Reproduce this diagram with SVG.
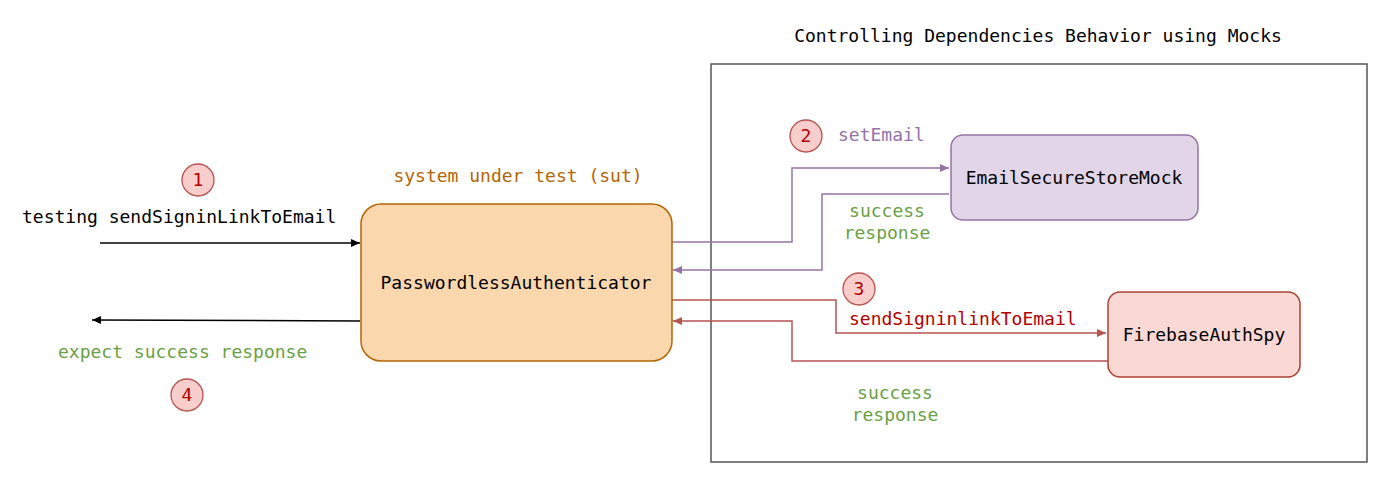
<svg xmlns="http://www.w3.org/2000/svg" width="1400" height="486" viewBox="0 0 1400 486">
<defs>
<style>
text{font-family:"DejaVu Sans Mono","Liberation Mono",monospace;font-size:18px}
.num{fill:#f8cecc;stroke:#b85450;stroke-width:1.3}
.nt{fill:#b20000;text-anchor:middle}
.g{fill:#6a9f45}
.ln{fill:none;stroke-width:1.5}
</style>
<marker id="ak" markerWidth="10" markerHeight="10" refX="9" refY="5" orient="auto" markerUnits="userSpaceOnUse"><path d="M0,1 L9,5 L0,9 Z" fill="#000"/></marker>
<marker id="ap" markerWidth="10" markerHeight="10" refX="9" refY="5" orient="auto" markerUnits="userSpaceOnUse"><path d="M0,1 L9,5 L0,9 Z" fill="#9673a6"/></marker>
<marker id="ar" markerWidth="10" markerHeight="10" refX="9" refY="5" orient="auto" markerUnits="userSpaceOnUse"><path d="M0,1 L9,5 L0,9 Z" fill="#b85450"/></marker>
</defs>
<rect width="1400" height="486" fill="#fff"/>
<text x="1038" y="42" text-anchor="middle" fill="#000">Controlling Dependencies Behavior using Mocks</text>
<rect x="711" y="64" width="656" height="398" fill="none" stroke="#555" stroke-width="1.5"/>
<g id="connectors">
<line class="ln" x1="100" y1="243" x2="360" y2="243" stroke="#000" marker-end="url(#ak)"/>
<path class="ln" d="M360,321 L92,320" stroke="#000" marker-end="url(#ak)"/>
<path class="ln" d="M672,242 H792 V168 H949" stroke="#9673a6" marker-end="url(#ap)"/>
<path class="ln" d="M949,194 H822 V270 H673" stroke="#9673a6" marker-end="url(#ap)"/>
<path class="ln" d="M672,300 H836 V333 H1106" stroke="#b85450" marker-end="url(#ar)"/>
<path class="ln" d="M1108,361 H792 V321 H673" stroke="#b85450" marker-end="url(#ar)"/>
</g>
<g id="sut">
<rect x="361" y="204" width="311" height="157" rx="20" fill="#fad7ac" stroke="#b46504" stroke-width="1.5"/>
<text x="516" y="289" text-anchor="middle" fill="#000">PasswordlessAuthenticator</text>
</g>
<g id="mock">
<rect x="951" y="135" width="247" height="85" rx="12" fill="#e1d5e7" stroke="#9673a6" stroke-width="1.5"/>
<text x="1074" y="184" text-anchor="middle" fill="#000">EmailSecureStoreMock</text>
</g>
<g id="spy">
<rect x="1108" y="292" width="192" height="85" rx="12" fill="#fad9d5" stroke="#ae4132" stroke-width="1.5"/>
<text x="1204" y="341" text-anchor="middle" fill="#000">FirebaseAuthSpy</text>
</g>
<g id="labels">
<text x="518" y="182" text-anchor="middle" fill="#b46504">system under test (sut)</text>
<text x="22" y="223" fill="#000">testing sendSigninLinkToEmail</text>
<text x="58" y="358" class="g">expect success response</text>
<text x="838" y="141" fill="#9673a6">setEmail</text>
<text x="887" y="217" class="g" text-anchor="middle">success</text>
<text x="887" y="239" class="g" text-anchor="middle">response</text>
<text x="849" y="325" fill="#b20000">sendSigninlinkToEmail</text>
<text x="895" y="399" class="g" text-anchor="middle">success</text>
<text x="895" y="421" class="g" text-anchor="middle">response</text>
</g>
<g id="n1"><circle class="num" cx="198" cy="180" r="16"/><text class="nt" x="198" y="186">1</text></g>
<g id="n2"><circle class="num" cx="806" cy="136" r="16"/><text class="nt" x="806" y="142">2</text></g>
<g id="n3"><circle class="num" cx="859" cy="289" r="16"/><text class="nt" x="859" y="295">3</text></g>
<g id="n4"><circle class="num" cx="187" cy="395" r="16"/><text class="nt" x="187" y="401">4</text></g>
</svg>
